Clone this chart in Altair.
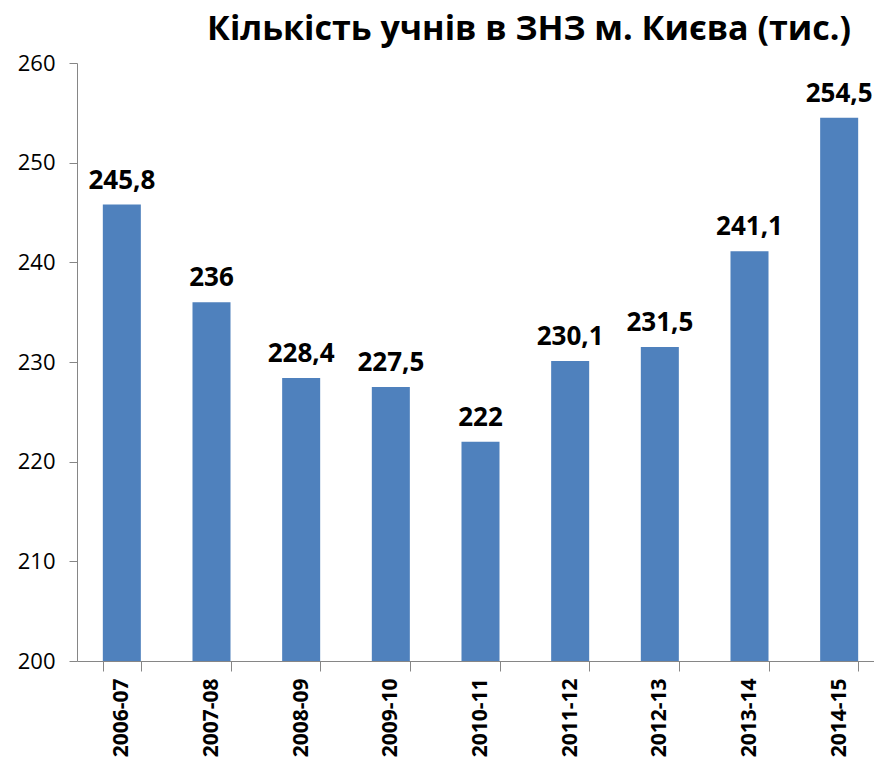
import altair as alt
import pandas as pd

years = ["2006-07", "2007-08", "2008-09", "2009-10", "2010-11", "2011-12", "2012-13", "2013-14", "2014-15"]
values = [245.8, 236, 228.4, 227.5, 222, 230.1, 231.5, 241.1, 254.5]
labels = ["245,8", "236", "228,4", "227,5", "222", "230,1", "231,5", "241,1", "254,5"]

df = pd.DataFrame({"year": years, "value": values, "label": labels})
FONT = "Open Sans"

base = alt.Chart(df).encode(
    x=alt.X("year:N", sort=years, title=None,
            scale=alt.Scale(paddingInner=0.576, paddingOuter=0.288, range=[0, 807]),
            axis=alt.Axis(labelAngle=-90, labelFont=FONT, labelFontWeight="bold",
                          labelFontSize=21, labelColor="black", labelPadding=7,
                          tickBand="extent", tickSize=10, tickColor="#868686",
                          domainColor="#868686", labelBaseline="middle", labelAlign="right")),
)

bars = base.mark_bar(color="#4F81BD", clip=True).encode(
    y=alt.Y("value:Q", title=None,
            scale=alt.Scale(domain=[200, 260], zero=False, nice=False),
            axis=alt.Axis(values=[200, 210, 220, 230, 240, 250, 260], grid=False,
                          labelFont=FONT, labelFontSize=22, labelColor="black",
                          tickSize=8, tickColor="#868686", domainColor="#868686",
                          labelPadding=14))
)

text = base.mark_text(font=FONT, fontWeight="bold", fontSize=26, baseline="bottom",
                      dy=-11, color="black").encode(
    y=alt.Y("value:Q"), text="label:N")

chart = (bars + text).properties(
    width=797, height=598,
    padding={"left": 77, "top": 63, "right": 0, "bottom": 108},
    autosize="none",
    title=alt.TitleParams("Кількість учнів в ЗНЗ м. Києва (тис.)", font=FONT,
                          fontSize=34, fontWeight="bold", color="black",
                          anchor="end", dx=-33, offset=5),
).configure_view(stroke=None)

chart.save("out.html", embed_options={"renderer": "svg", "actions": False})
